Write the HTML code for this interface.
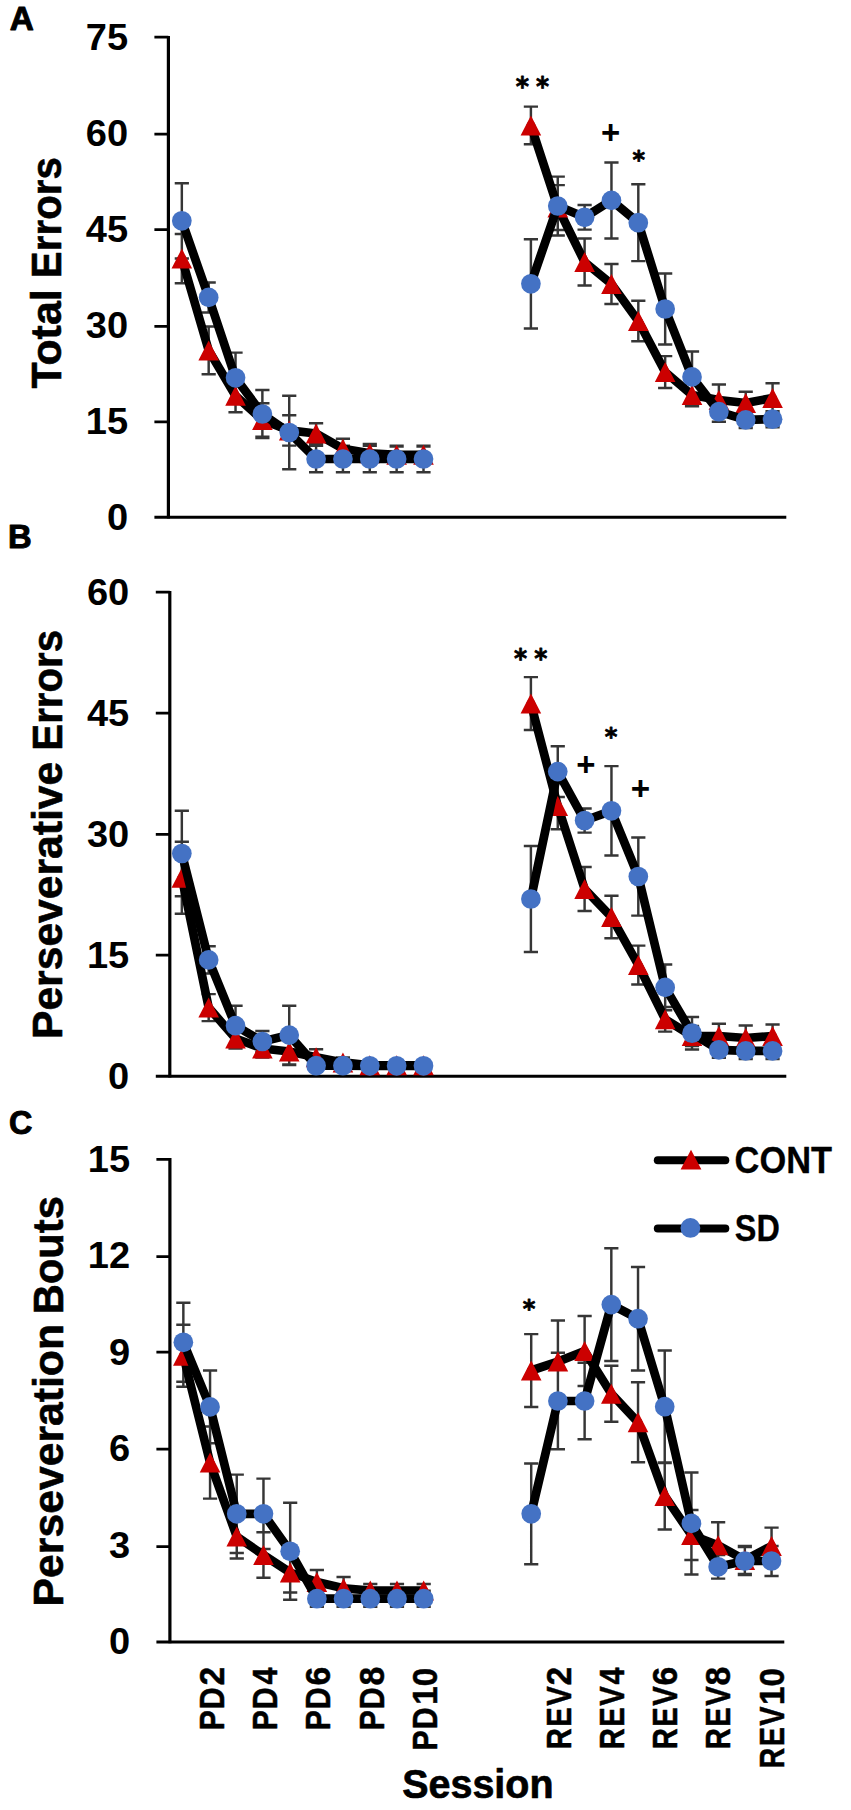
<!DOCTYPE html>
<html lang="en"><head><meta charset="utf-8"><title>Figure</title>
<style>html,body{margin:0;padding:0;background:#fff}body{width:851px;height:1810px;overflow:hidden}svg{display:block}</style>
</head><body>
<svg width="851" height="1810" viewBox="0 0 851 1810" role="img" aria-label="Figure: Total Errors, Perseverative Errors and Perseveration Bouts by Session for CONT and SD groups">
<rect width="851" height="1810" fill="#fff"/>
<g stroke="#000" fill="none">
<path d="M168.4 35.9V518.6" stroke-width="3.2"/>
<path d="M154.4 517.3H786.3" stroke-width="3"/>
<path d="M154.4 37.2H168.4M154.4 134.1H168.4M154.4 229.6H168.4M154.4 326.3H168.4M154.4 421.8H168.4" stroke-width="2.7"/>
</g>
<path d="M181.83 234V283.2M174.73 234h14.2M174.73 283.2h14.2M208.68 326.5V374.3M201.58 326.5h14.2M201.58 374.3h14.2M235.53 379.4V412.2M228.43 379.4h14.2M228.43 412.2h14.2M262.38 403.3V436.7M255.28 403.3h14.2M255.28 436.7h14.2M289.23 415.2V445.6M282.13 415.2h14.2M282.13 445.6h14.2M316.09 423.2V443.8M308.99 423.2h14.2M308.99 443.8h14.2M342.94 438.8V458.8M335.84 438.8h14.2M335.84 458.8h14.2M369.79 443.9V462.7M362.69 443.9h14.2M362.69 462.7h14.2M396.64 446.5V463.1M389.54 446.5h14.2M389.54 463.1h14.2M423.5 446.5V463.1M416.4 446.5h14.2M416.4 463.1h14.2M530.9 106.6V144.2M523.8 106.6h14.2M523.8 144.2h14.2M557.76 185.1V229.9M550.66 185.1h14.2M550.66 229.9h14.2M584.61 238.5V285.5M577.51 238.5h14.2M577.51 285.5h14.2M611.46 264V304M604.36 264h14.2M604.36 304h14.2M638.31 300.7V341.3M631.21 300.7h14.2M631.21 341.3h14.2M665.17 356.1V387.9M658.07 356.1h14.2M658.07 387.9h14.2M692.02 383.7V406.3M684.92 383.7h14.2M684.92 406.3h14.2M718.87 384.4V415.6M711.77 384.4h14.2M711.77 415.6h14.2M745.72 391.7V414.3M738.62 391.7h14.2M738.62 414.3h14.2M772.57 383.3V412.7M765.47 383.3h14.2M765.47 412.7h14.2M181.83 183.2V258.4M174.73 183.2h14.2M174.73 258.4h14.2M208.68 282.4V312.4M201.58 282.4h14.2M201.58 312.4h14.2M235.53 352.6V403M228.43 352.6h14.2M228.43 403h14.2M262.38 390V438M255.28 390h14.2M255.28 438h14.2M289.23 395.8V469.2M282.13 395.8h14.2M282.13 469.2h14.2M316.09 445.7V472.3M308.99 445.7h14.2M308.99 472.3h14.2M342.94 445.7V472.3M335.84 445.7h14.2M335.84 472.3h14.2M369.79 445.7V472.3M362.69 445.7h14.2M362.69 472.3h14.2M396.64 445.7V472.3M389.54 445.7h14.2M389.54 472.3h14.2M423.5 445.7V472.3M416.4 445.7h14.2M416.4 472.3h14.2M530.9 239.2V328.4M523.8 239.2h14.2M523.8 328.4h14.2M557.76 176.6V235.4M550.66 176.6h14.2M550.66 235.4h14.2M584.61 205V229.6M577.51 205h14.2M577.51 229.6h14.2M611.46 162.4V238.4M604.36 162.4h14.2M604.36 238.4h14.2M638.31 184.3V261.1M631.21 184.3h14.2M631.21 261.1h14.2M665.17 273.5V344.5M658.07 273.5h14.2M658.07 344.5h14.2M692.02 351.5V402.3M684.92 351.5h14.2M684.92 402.3h14.2M718.87 401.7V421.7M711.77 401.7h14.2M711.77 421.7h14.2M745.72 411.9V427.9M738.62 411.9h14.2M738.62 427.9h14.2M772.57 411.2V427.2M765.47 411.2h14.2M765.47 427.2h14.2" stroke="#363636" stroke-width="2.45" fill="none"/>
<polyline points="181.83,258.6 208.68,350.4 235.53,395.8 262.38,420 289.23,430.4 316.09,433.5 342.94,448.8 369.79,453.3 396.64,454.8 423.5,454.8" fill="none" stroke="#000" stroke-width="8.7" stroke-linejoin="round" stroke-linecap="round"/>
<polyline points="530.9,125.4 557.76,207.5 584.61,262 611.46,284 638.31,321 665.17,372 692.02,395 718.87,400 745.72,403 772.57,398" fill="none" stroke="#000" stroke-width="8.7" stroke-linejoin="round" stroke-linecap="round"/>
<path d="M181.83 248.6l10.3 20h-20.6zM208.68 340.4l10.3 20h-20.6zM235.53 385.8l10.3 20h-20.6zM262.38 410l10.3 20h-20.6zM289.23 420.4l10.3 20h-20.6zM316.09 423.5l10.3 20h-20.6zM342.94 438.8l10.3 20h-20.6zM369.79 443.3l10.3 20h-20.6zM396.64 444.8l10.3 20h-20.6zM423.5 444.8l10.3 20h-20.6zM530.9 115.4l10.3 20h-20.6zM557.76 197.5l10.3 20h-20.6zM584.61 252l10.3 20h-20.6zM611.46 274l10.3 20h-20.6zM638.31 311l10.3 20h-20.6zM665.17 362l10.3 20h-20.6zM692.02 385l10.3 20h-20.6zM718.87 390l10.3 20h-20.6zM745.72 393l10.3 20h-20.6zM772.57 388l10.3 20h-20.6z" fill="#cc0000"/>
<polyline points="181.83,220.8 208.68,297.4 235.53,377.8 262.38,414 289.23,432.5 316.09,459 342.94,459 369.79,459 396.64,459 423.5,459" fill="none" stroke="#000" stroke-width="8.7" stroke-linejoin="round" stroke-linecap="round"/>
<polyline points="530.9,283.8 557.76,206 584.61,217.3 611.46,200.4 638.31,222.7 665.17,309 692.02,376.9 718.87,411.7 745.72,419.9 772.57,419.2" fill="none" stroke="#000" stroke-width="8.7" stroke-linejoin="round" stroke-linecap="round"/>
<circle cx="181.83" cy="220.8" r="9.85" fill="#4472c4"/>
<circle cx="208.68" cy="297.4" r="9.85" fill="#4472c4"/>
<circle cx="235.53" cy="377.8" r="9.85" fill="#4472c4"/>
<circle cx="262.38" cy="414" r="9.85" fill="#4472c4"/>
<circle cx="289.23" cy="432.5" r="9.85" fill="#4472c4"/>
<circle cx="316.09" cy="459" r="9.85" fill="#4472c4"/>
<circle cx="342.94" cy="459" r="9.85" fill="#4472c4"/>
<circle cx="369.79" cy="459" r="9.85" fill="#4472c4"/>
<circle cx="396.64" cy="459" r="9.85" fill="#4472c4"/>
<circle cx="423.5" cy="459" r="9.85" fill="#4472c4"/>
<circle cx="530.9" cy="283.8" r="9.85" fill="#4472c4"/>
<circle cx="557.76" cy="206" r="9.85" fill="#4472c4"/>
<circle cx="584.61" cy="217.3" r="9.85" fill="#4472c4"/>
<circle cx="611.46" cy="200.4" r="9.85" fill="#4472c4"/>
<circle cx="638.31" cy="222.7" r="9.85" fill="#4472c4"/>
<circle cx="665.17" cy="309" r="9.85" fill="#4472c4"/>
<circle cx="692.02" cy="376.9" r="9.85" fill="#4472c4"/>
<circle cx="718.87" cy="411.7" r="9.85" fill="#4472c4"/>
<circle cx="745.72" cy="419.9" r="9.85" fill="#4472c4"/>
<circle cx="772.57" cy="419.2" r="9.85" fill="#4472c4"/>
<g stroke="#000" fill="none">
<path d="M169.8 590.9V1077.5" stroke-width="3.2"/>
<path d="M155.8 1076.2H786.3" stroke-width="3"/>
<path d="M155.8 592.2H169.8M155.8 713.2H169.8M155.8 834.3H169.8M155.8 955.2H169.8" stroke-width="2.7"/>
</g>
<path d="M181.83 841.7V913.7M174.73 841.7h14.2M174.73 913.7h14.2M208.68 994.1V1021.1M201.58 994.1h14.2M201.58 1021.1h14.2M235.53 1028.5V1048.5M228.43 1028.5h14.2M228.43 1048.5h14.2M262.38 1039.5V1057.5M255.28 1039.5h14.2M255.28 1057.5h14.2M289.23 1038V1065M282.13 1038h14.2M282.13 1065h14.2M316.09 1049.3V1065.3M308.99 1049.3h14.2M308.99 1065.3h14.2M342.94 1057.4V1067.4M335.84 1057.4h14.2M335.84 1067.4h14.2M369.79 1062.3V1068.3M362.69 1062.3h14.2M362.69 1068.3h14.2M396.64 1062.3V1068.3M389.54 1062.3h14.2M389.54 1068.3h14.2M423.5 1062.3V1068.3M416.4 1062.3h14.2M416.4 1068.3h14.2M530.9 677.1V729.9M523.8 677.1h14.2M523.8 729.9h14.2M557.76 782.8V829.2M550.66 782.8h14.2M550.66 829.2h14.2M584.61 867V911M577.51 867h14.2M577.51 911h14.2M611.46 895.8V938.2M604.36 895.8h14.2M604.36 938.2h14.2M638.31 945.6V984.4M631.21 945.6h14.2M631.21 984.4h14.2M665.17 1007V1031.6M658.07 1007h14.2M658.07 1031.6h14.2M692.02 1026V1046M684.92 1026h14.2M684.92 1046h14.2M718.87 1023.7V1048.3M711.77 1023.7h14.2M711.77 1048.3h14.2M745.72 1025.5V1050.5M738.62 1025.5h14.2M738.62 1050.5h14.2M772.57 1024.4V1047.6M765.47 1024.4h14.2M765.47 1047.6h14.2M181.83 810.7V896.3M174.73 810.7h14.2M174.73 896.3h14.2M208.68 946.3V973.5M201.58 946.3h14.2M201.58 973.5h14.2M235.53 1005.7V1045.7M228.43 1005.7h14.2M228.43 1045.7h14.2M262.38 1030.9V1052.1M255.28 1030.9h14.2M255.28 1052.1h14.2M289.23 1005.7V1064.5M282.13 1005.7h14.2M282.13 1064.5h14.2M316.09 1062.7V1068.7M308.99 1062.7h14.2M308.99 1068.7h14.2M342.94 1062.7V1068.7M335.84 1062.7h14.2M335.84 1068.7h14.2M369.79 1062.8V1068.8M362.69 1062.8h14.2M362.69 1068.8h14.2M396.64 1062.8V1068.8M389.54 1062.8h14.2M389.54 1068.8h14.2M423.5 1062.8V1068.8M416.4 1062.8h14.2M416.4 1068.8h14.2M530.9 846V952M523.8 846h14.2M523.8 952h14.2M557.76 746.2V797M550.66 746.2h14.2M550.66 797h14.2M584.61 808.4V832.6M577.51 808.4h14.2M577.51 832.6h14.2M611.46 766.1V855.5M604.36 766.1h14.2M604.36 855.5h14.2M638.31 837.4V915.6M631.21 837.4h14.2M631.21 915.6h14.2M665.17 964.5V1010.3M658.07 964.5h14.2M658.07 1010.3h14.2M692.02 1017V1049.4M684.92 1017h14.2M684.92 1049.4h14.2M718.87 1041.8V1057.8M711.77 1041.8h14.2M711.77 1057.8h14.2M745.72 1042.9V1058.9M738.62 1042.9h14.2M738.62 1058.9h14.2M772.57 1042.9V1058.9M765.47 1042.9h14.2M765.47 1058.9h14.2" stroke="#363636" stroke-width="2.45" fill="none"/>
<polyline points="181.83,877.7 208.68,1007.6 235.53,1038.5 262.38,1048.5 289.23,1051.5 316.09,1057.3 342.94,1062.4 369.79,1065.3 396.64,1065.3 423.5,1065.3" fill="none" stroke="#000" stroke-width="8.7" stroke-linejoin="round" stroke-linecap="round"/>
<polyline points="530.9,703.5 557.76,806 584.61,889 611.46,917 638.31,965 665.17,1019.3 692.02,1036 718.87,1036 745.72,1038 772.57,1036" fill="none" stroke="#000" stroke-width="8.7" stroke-linejoin="round" stroke-linecap="round"/>
<path d="M181.83 867.7l10.3 20h-20.6zM208.68 997.6l10.3 20h-20.6zM235.53 1028.5l10.3 20h-20.6zM262.38 1038.5l10.3 20h-20.6zM289.23 1041.5l10.3 20h-20.6zM316.09 1047.3l10.3 20h-20.6zM342.94 1052.4l10.3 20h-20.6zM369.79 1055.3l10.3 20h-20.6zM396.64 1055.3l10.3 20h-20.6zM423.5 1055.3l10.3 20h-20.6zM530.9 693.5l10.3 20h-20.6zM557.76 796l10.3 20h-20.6zM584.61 879l10.3 20h-20.6zM611.46 907l10.3 20h-20.6zM638.31 955l10.3 20h-20.6zM665.17 1009.3l10.3 20h-20.6zM692.02 1026l10.3 20h-20.6zM718.87 1026l10.3 20h-20.6zM745.72 1028l10.3 20h-20.6zM772.57 1026l10.3 20h-20.6z" fill="#cc0000"/>
<polyline points="181.83,853.5 208.68,959.9 235.53,1025.7 262.38,1041.5 289.23,1035.1 316.09,1065.7 342.94,1065.7 369.79,1065.8 396.64,1065.8 423.5,1065.8" fill="none" stroke="#000" stroke-width="8.7" stroke-linejoin="round" stroke-linecap="round"/>
<polyline points="530.9,899 557.76,771.6 584.61,820.5 611.46,810.8 638.31,876.5 665.17,987.4 692.02,1033.2 718.87,1049.8 745.72,1050.9 772.57,1050.9" fill="none" stroke="#000" stroke-width="8.7" stroke-linejoin="round" stroke-linecap="round"/>
<circle cx="181.83" cy="853.5" r="9.85" fill="#4472c4"/>
<circle cx="208.68" cy="959.9" r="9.85" fill="#4472c4"/>
<circle cx="235.53" cy="1025.7" r="9.85" fill="#4472c4"/>
<circle cx="262.38" cy="1041.5" r="9.85" fill="#4472c4"/>
<circle cx="289.23" cy="1035.1" r="9.85" fill="#4472c4"/>
<circle cx="316.09" cy="1065.7" r="9.85" fill="#4472c4"/>
<circle cx="342.94" cy="1065.7" r="9.85" fill="#4472c4"/>
<circle cx="369.79" cy="1065.8" r="9.85" fill="#4472c4"/>
<circle cx="396.64" cy="1065.8" r="9.85" fill="#4472c4"/>
<circle cx="423.5" cy="1065.8" r="9.85" fill="#4472c4"/>
<circle cx="530.9" cy="899" r="9.85" fill="#4472c4"/>
<circle cx="557.76" cy="771.6" r="9.85" fill="#4472c4"/>
<circle cx="584.61" cy="820.5" r="9.85" fill="#4472c4"/>
<circle cx="611.46" cy="810.8" r="9.85" fill="#4472c4"/>
<circle cx="638.31" cy="876.5" r="9.85" fill="#4472c4"/>
<circle cx="665.17" cy="987.4" r="9.85" fill="#4472c4"/>
<circle cx="692.02" cy="1033.2" r="9.85" fill="#4472c4"/>
<circle cx="718.87" cy="1049.8" r="9.85" fill="#4472c4"/>
<circle cx="745.72" cy="1050.9" r="9.85" fill="#4472c4"/>
<circle cx="772.57" cy="1050.9" r="9.85" fill="#4472c4"/>
<g stroke="#000" fill="none">
<path d="M169.9 1158.1V1643.2" stroke-width="3.2"/>
<path d="M156.4 1641.9H784.3" stroke-width="3"/>
<path d="M156.4 1159.4H169.9M156.4 1256.7H169.9M156.4 1352.1H169.9M156.4 1449.2H169.9M156.4 1546.7H169.9" stroke-width="2.7"/>
</g>
<path d="M183.35 1324.8V1386.8M176.25 1324.8h14.2M176.25 1386.8h14.2M210.06 1426.4V1498.6M202.96 1426.4h14.2M202.96 1498.6h14.2M236.76 1514.5V1558.5M229.66 1514.5h14.2M229.66 1558.5h14.2M263.47 1532.3V1577.7M256.37 1532.3h14.2M256.37 1577.7h14.2M290.17 1552.5V1592.5M283.07 1552.5h14.2M283.07 1592.5h14.2M316.87 1570V1594M309.77 1570h14.2M309.77 1594h14.2M343.58 1577V1599.6M336.48 1577h14.2M336.48 1599.6h14.2M370.28 1583.9V1597.1M363.18 1583.9h14.2M363.18 1597.1h14.2M396.99 1583.9V1597.1M389.89 1583.9h14.2M389.89 1597.1h14.2M423.69 1583.9V1597.1M416.59 1583.9h14.2M416.59 1597.1h14.2M531.21 1334.1V1406.9M524.11 1334.1h14.2M524.11 1406.9h14.2M557.91 1320.4V1402.8M550.81 1320.4h14.2M550.81 1402.8h14.2M584.62 1316V1386M577.52 1316h14.2M577.52 1386h14.2M611.32 1365.8V1421.8M604.22 1365.8h14.2M604.22 1421.8h14.2M638.03 1382.3V1462.3M630.93 1382.3h14.2M630.93 1462.3h14.2M664.73 1462.5V1529.5M657.63 1462.5h14.2M657.63 1529.5h14.2M691.43 1510V1560M684.33 1510h14.2M684.33 1560h14.2M718.14 1522.2V1568.4M711.04 1522.2h14.2M711.04 1568.4h14.2M744.84 1546V1574M737.74 1546h14.2M737.74 1574h14.2M771.55 1527.6V1564.4M764.45 1527.6h14.2M764.45 1564.4h14.2M183.35 1302.8V1381.8M176.25 1302.8h14.2M176.25 1381.8h14.2M210.06 1370.5V1443.3M202.96 1370.5h14.2M202.96 1443.3h14.2M236.76 1474.6V1553M229.66 1474.6h14.2M229.66 1553h14.2M263.47 1478.6V1549M256.37 1478.6h14.2M256.37 1549h14.2M290.17 1502.8V1599.8M283.07 1502.8h14.2M283.07 1599.8h14.2M316.87 1590.7V1606.7M309.77 1590.7h14.2M309.77 1606.7h14.2M343.58 1590.7V1606.7M336.48 1590.7h14.2M336.48 1606.7h14.2M370.28 1590.7V1606.7M363.18 1590.7h14.2M363.18 1606.7h14.2M396.99 1590.7V1606.7M389.89 1590.7h14.2M389.89 1606.7h14.2M423.69 1590.7V1606.7M416.59 1590.7h14.2M416.59 1606.7h14.2M531.21 1463.4V1564.2M524.11 1463.4h14.2M524.11 1564.2h14.2M557.91 1352.8V1449.2M550.81 1352.8h14.2M550.81 1449.2h14.2M584.62 1362.7V1439.3M577.52 1362.7h14.2M577.52 1439.3h14.2M611.32 1248.2V1361M604.22 1248.2h14.2M604.22 1361h14.2M638.03 1267V1370.4M630.93 1267h14.2M630.93 1370.4h14.2M664.73 1350.4V1463M657.63 1350.4h14.2M657.63 1463h14.2M691.43 1472.4V1574.4M684.33 1472.4h14.2M684.33 1574.4h14.2M718.14 1555V1578.6M711.04 1555h14.2M711.04 1578.6h14.2M744.84 1546.9V1575.1M737.74 1546.9h14.2M737.74 1575.1h14.2M771.55 1546V1576M764.45 1546h14.2M764.45 1576h14.2" stroke="#363636" stroke-width="2.45" fill="none"/>
<polyline points="183.35,1355.8 210.06,1462.5 236.76,1536.5 263.47,1555 290.17,1572.5 316.87,1582 343.58,1588.3 370.28,1590.5 396.99,1590.5 423.69,1590.5" fill="none" stroke="#000" stroke-width="8.7" stroke-linejoin="round" stroke-linecap="round"/>
<polyline points="531.21,1370.5 557.91,1361.6 584.62,1351 611.32,1393.8 638.03,1422.3 664.73,1496 691.43,1535 718.14,1545.3 744.84,1560 771.55,1546" fill="none" stroke="#000" stroke-width="8.7" stroke-linejoin="round" stroke-linecap="round"/>
<path d="M183.35 1345.8l10.3 20h-20.6zM210.06 1452.5l10.3 20h-20.6zM236.76 1526.5l10.3 20h-20.6zM263.47 1545l10.3 20h-20.6zM290.17 1562.5l10.3 20h-20.6zM316.87 1572l10.3 20h-20.6zM343.58 1578.3l10.3 20h-20.6zM370.28 1580.5l10.3 20h-20.6zM396.99 1580.5l10.3 20h-20.6zM423.69 1580.5l10.3 20h-20.6zM531.21 1360.5l10.3 20h-20.6zM557.91 1351.6l10.3 20h-20.6zM584.62 1341l10.3 20h-20.6zM611.32 1383.8l10.3 20h-20.6zM638.03 1412.3l10.3 20h-20.6zM664.73 1486l10.3 20h-20.6zM691.43 1525l10.3 20h-20.6zM718.14 1535.3l10.3 20h-20.6zM744.84 1550l10.3 20h-20.6zM771.55 1536l10.3 20h-20.6z" fill="#cc0000"/>
<polyline points="183.35,1342.3 210.06,1406.9 236.76,1513.8 263.47,1513.8 290.17,1551.3 316.87,1598.7 343.58,1598.7 370.28,1598.7 396.99,1598.7 423.69,1598.7" fill="none" stroke="#000" stroke-width="8.7" stroke-linejoin="round" stroke-linecap="round"/>
<polyline points="531.21,1513.8 557.91,1401 584.62,1401 611.32,1304.6 638.03,1318.7 664.73,1406.7 691.43,1523.4 718.14,1566.8 744.84,1561 771.55,1561" fill="none" stroke="#000" stroke-width="8.7" stroke-linejoin="round" stroke-linecap="round"/>
<circle cx="183.35" cy="1342.3" r="9.85" fill="#4472c4"/>
<circle cx="210.06" cy="1406.9" r="9.85" fill="#4472c4"/>
<circle cx="236.76" cy="1513.8" r="9.85" fill="#4472c4"/>
<circle cx="263.47" cy="1513.8" r="9.85" fill="#4472c4"/>
<circle cx="290.17" cy="1551.3" r="9.85" fill="#4472c4"/>
<circle cx="316.87" cy="1598.7" r="9.85" fill="#4472c4"/>
<circle cx="343.58" cy="1598.7" r="9.85" fill="#4472c4"/>
<circle cx="370.28" cy="1598.7" r="9.85" fill="#4472c4"/>
<circle cx="396.99" cy="1598.7" r="9.85" fill="#4472c4"/>
<circle cx="423.69" cy="1598.7" r="9.85" fill="#4472c4"/>
<circle cx="531.21" cy="1513.8" r="9.85" fill="#4472c4"/>
<circle cx="557.91" cy="1401" r="9.85" fill="#4472c4"/>
<circle cx="584.62" cy="1401" r="9.85" fill="#4472c4"/>
<circle cx="611.32" cy="1304.6" r="9.85" fill="#4472c4"/>
<circle cx="638.03" cy="1318.7" r="9.85" fill="#4472c4"/>
<circle cx="664.73" cy="1406.7" r="9.85" fill="#4472c4"/>
<circle cx="691.43" cy="1523.4" r="9.85" fill="#4472c4"/>
<circle cx="718.14" cy="1566.8" r="9.85" fill="#4472c4"/>
<circle cx="744.84" cy="1561" r="9.85" fill="#4472c4"/>
<circle cx="771.55" cy="1561" r="9.85" fill="#4472c4"/>
<g stroke="#000" stroke-width="8" stroke-linecap="round"><path d="M657.8 1160.2H725.3"/><path d="M657.8 1228.4H725.3"/></g>
<path d="M691 1149.8l10.4 19.6h-20.8z" fill="#cc0000"/>
<circle cx="690.4" cy="1227.9" r="9.9" fill="#4472c4"/>
<g font-family='"Liberation Sans", sans-serif' fill="#000">
<text transform="translate(9.2 30.4) translate(0.5 0) scale(0.9920 1.0000)" font-size="33.6" font-weight="bold" stroke="#000" stroke-width="1.0" stroke-linejoin="round">A</text>
<text transform="translate(9.5 547.6) translate(-1.47 0) scale(0.9773 1.0000)" font-size="33.6" font-weight="bold" stroke="#000" stroke-width="1.0" stroke-linejoin="round">B</text>
<text transform="translate(9.6 1133.6) translate(-0.48 0) scale(0.9625 1.0000)" font-size="33.6" font-weight="bold" stroke="#000" stroke-width="1.0" stroke-linejoin="round">C</text>
<text transform="translate(127.4 49.7) translate(-41.56 0) scale(1.0200 1.0000)" font-size="37.3" font-weight="bold">75</text>
<text transform="translate(127.4 145.72) translate(-41.56 0) scale(1.0200 1.0000)" font-size="37.3" font-weight="bold">60</text>
<text transform="translate(127.4 241.74) translate(-41.56 0) scale(1.0200 1.0000)" font-size="37.3" font-weight="bold">45</text>
<text transform="translate(127.4 337.76) translate(-41.56 0) scale(1.0200 1.0000)" font-size="37.3" font-weight="bold">30</text>
<text transform="translate(127.4 433.78) translate(-41.56 0) scale(1.0200 1.0000)" font-size="37.3" font-weight="bold">15</text>
<text transform="translate(127.4 529.8) translate(-20.4 0) scale(1.0200 1.0000)" font-size="37.3" font-weight="bold">0</text>
<text transform="translate(128.5 604.7) translate(-41.56 0) scale(1.0200 1.0000)" font-size="37.3" font-weight="bold">60</text>
<text transform="translate(128.5 725.7) translate(-41.56 0) scale(1.0200 1.0000)" font-size="37.3" font-weight="bold">45</text>
<text transform="translate(128.5 846.7) translate(-41.56 0) scale(1.0200 1.0000)" font-size="37.3" font-weight="bold">30</text>
<text transform="translate(128.5 967.7) translate(-41.56 0) scale(1.0200 1.0000)" font-size="37.3" font-weight="bold">15</text>
<text transform="translate(128.5 1088.7) translate(-20.4 0) scale(1.0200 1.0000)" font-size="37.3" font-weight="bold">0</text>
<text transform="translate(129.3 1171.9) translate(-41.56 0) scale(1.0200 1.0000)" font-size="37.3" font-weight="bold">15</text>
<text transform="translate(129.3 1268.4) translate(-41.56 0) scale(1.0200 1.0000)" font-size="37.3" font-weight="bold">12</text>
<text transform="translate(129.3 1364.9) translate(-20.4 0) scale(1.0200 1.0000)" font-size="37.3" font-weight="bold">9</text>
<text transform="translate(129.3 1461.4) translate(-20.4 0) scale(1.0200 1.0000)" font-size="37.3" font-weight="bold">6</text>
<text transform="translate(129.3 1557.9) translate(-20.4 0) scale(1.0200 1.0000)" font-size="37.3" font-weight="bold">3</text>
<text transform="translate(129.3 1654.4) translate(-20.4 0) scale(1.0200 1.0000)" font-size="37.3" font-weight="bold">0</text>
<text transform="translate(61.2 388.9) rotate(-90) translate(0.31 0) scale(1.0261 1.0000)" font-size="41.8" font-weight="bold" stroke="#000" stroke-width="0.6" stroke-linejoin="round">Total </text><text transform="translate(61.2 276.5) rotate(-90) translate(-1.64 0) scale(0.9649 1.0000)" font-size="41.8" font-weight="bold" stroke="#000" stroke-width="0.6" stroke-linejoin="round">Errors</text>
<text transform="translate(62.4 1037.3) rotate(-90) translate(-1.73 0) scale(1.0198 1.0000)" font-size="41.8" font-weight="bold" stroke="#000" stroke-width="0.6" stroke-linejoin="round">Perseverative </text><text transform="translate(62.4 749.1) rotate(-90) translate(-1.64 0) scale(0.9641 1.0000)" font-size="41.8" font-weight="bold" stroke="#000" stroke-width="0.6" stroke-linejoin="round">Errors</text>
<text transform="translate(62.8 1604.7) rotate(-90) translate(-1.74 0) scale(1.0215 1.0000)" font-size="41.8" font-weight="bold" stroke="#000" stroke-width="0.6" stroke-linejoin="round">Perseveration </text><text transform="translate(62.8 1312.5) rotate(-90) translate(-1.69 0) scale(0.9968 1.0000)" font-size="41.8" font-weight="bold" stroke="#000" stroke-width="0.6" stroke-linejoin="round">Bouts</text>
<text transform="translate(402.8 1797.7) translate(-0.63 0) scale(0.9626 1.0000)" font-size="41" font-weight="bold" stroke="#000" stroke-width="0.7" stroke-linejoin="round">Session</text>
<text letter-spacing="1.2" transform="translate(223.8 1728.8) rotate(-90) translate(-1.47 0) scale(0.8420 1.0000)" font-size="35.8" font-weight="bold" stroke="#000" stroke-width="0.5" stroke-linejoin="round">PD</text><text transform="translate(223.8 1684.8) rotate(-90) translate(-0.71 0) scale(0.9405 1.0000)" font-size="35.8" font-weight="bold" stroke="#000" stroke-width="0.5" stroke-linejoin="round">2</text>
<text letter-spacing="1.2" transform="translate(276.8 1728.8) rotate(-90) translate(-1.47 0) scale(0.8420 1.0000)" font-size="35.8" font-weight="bold" stroke="#000" stroke-width="0.5" stroke-linejoin="round">PD</text><text transform="translate(276.8 1684.8) rotate(-90) translate(0.21 0) scale(0.8488 1.0000)" font-size="35.8" font-weight="bold" stroke="#000" stroke-width="0.5" stroke-linejoin="round">4</text>
<text letter-spacing="1.2" transform="translate(330.1 1728.8) rotate(-90) translate(-1.47 0) scale(0.8420 1.0000)" font-size="35.8" font-weight="bold" stroke="#000" stroke-width="0.5" stroke-linejoin="round">PD</text><text transform="translate(330.1 1684.8) rotate(-90) translate(-0.71 0) scale(0.9405 1.0000)" font-size="35.8" font-weight="bold" stroke="#000" stroke-width="0.5" stroke-linejoin="round">6</text>
<text letter-spacing="1.2" transform="translate(384.2 1728.8) rotate(-90) translate(-1.47 0) scale(0.8420 1.0000)" font-size="35.8" font-weight="bold" stroke="#000" stroke-width="0.5" stroke-linejoin="round">PD</text><text transform="translate(384.2 1684.8) rotate(-90) translate(-0.71 0) scale(0.9405 1.0000)" font-size="35.8" font-weight="bold" stroke="#000" stroke-width="0.5" stroke-linejoin="round">8</text>
<text letter-spacing="1.2" transform="translate(437.3 1749) rotate(-90) translate(-1.48 0) scale(0.8461 1.0000)" font-size="35.8" font-weight="bold" stroke="#000" stroke-width="0.5" stroke-linejoin="round">PD</text><text transform="translate(437.3 1703.2) rotate(-90) translate(-1.62 0) scale(0.9276 1.0000)" font-size="35.8" font-weight="bold" stroke="#000" stroke-width="0.5" stroke-linejoin="round">10</text>
<text letter-spacing="1.8" transform="translate(571.2 1747.8) rotate(-90) translate(-1.42 0) scale(0.8137 1.0000)" font-size="35.8" font-weight="bold" stroke="#000" stroke-width="0.5" stroke-linejoin="round">REV</text><text transform="translate(571.2 1684.8) rotate(-90) translate(-0.71 0) scale(0.9405 1.0000)" font-size="35.8" font-weight="bold" stroke="#000" stroke-width="0.5" stroke-linejoin="round">2</text>
<text letter-spacing="1.8" transform="translate(624.2 1747.8) rotate(-90) translate(-1.42 0) scale(0.8137 1.0000)" font-size="35.8" font-weight="bold" stroke="#000" stroke-width="0.5" stroke-linejoin="round">REV</text><text transform="translate(624.2 1684.8) rotate(-90) translate(0.21 0) scale(0.8488 1.0000)" font-size="35.8" font-weight="bold" stroke="#000" stroke-width="0.5" stroke-linejoin="round">4</text>
<text letter-spacing="1.8" transform="translate(677.2 1747.8) rotate(-90) translate(-1.42 0) scale(0.8137 1.0000)" font-size="35.8" font-weight="bold" stroke="#000" stroke-width="0.5" stroke-linejoin="round">REV</text><text transform="translate(677.2 1684.8) rotate(-90) translate(-0.71 0) scale(0.9405 1.0000)" font-size="35.8" font-weight="bold" stroke="#000" stroke-width="0.5" stroke-linejoin="round">6</text>
<text letter-spacing="1.8" transform="translate(730.3 1747.8) rotate(-90) translate(-1.42 0) scale(0.8137 1.0000)" font-size="35.8" font-weight="bold" stroke="#000" stroke-width="0.5" stroke-linejoin="round">REV</text><text transform="translate(730.3 1684.8) rotate(-90) translate(-0.71 0) scale(0.9405 1.0000)" font-size="35.8" font-weight="bold" stroke="#000" stroke-width="0.5" stroke-linejoin="round">8</text>
<text letter-spacing="1.8" transform="translate(783.6 1767) rotate(-90) translate(-1.4 0) scale(0.8018 1.0000)" font-size="35.8" font-weight="bold" stroke="#000" stroke-width="0.5" stroke-linejoin="round">REV</text><text transform="translate(783.6 1703.3) rotate(-90) translate(-1.62 0) scale(0.9276 1.0000)" font-size="35.8" font-weight="bold" stroke="#000" stroke-width="0.5" stroke-linejoin="round">10</text>
<text transform="translate(735.4 1172.9) translate(-0.79 0) scale(0.9244 1.0000)" font-size="37.2" font-weight="bold" stroke="#000" stroke-width="0.3" stroke-linejoin="round">CONT</text>
<text transform="translate(735.6 1241.2) translate(-0.74 0) scale(0.8702 1.0000)" font-size="37.2" font-weight="bold" stroke="#000" stroke-width="0.3" stroke-linejoin="round">SD</text>
<text transform="translate(515.4 95.81) translate(0.38 0) scale(0.8462 0.8800)" font-size="30" font-weight="bold" font-family='"DejaVu Sans", "Liberation Sans", sans-serif' stroke="#000" stroke-width="0.9" stroke-linejoin="round">*</text><text transform="translate(535.7 95.81) translate(0.38 0) scale(0.8343 0.8800)" font-size="30" font-weight="bold" font-family='"DejaVu Sans", "Liberation Sans", sans-serif' stroke="#000" stroke-width="0.9" stroke-linejoin="round">*</text>
<text transform="translate(602 144.3) translate(-0.97 0) scale(0.9667 1.0000)" font-size="34" font-weight="bold">+</text>
<text transform="translate(632.2 168.48) translate(0.36 0) scale(0.7988 0.8467)" font-size="30" font-weight="bold" font-family='"DejaVu Sans", "Liberation Sans", sans-serif' stroke="#000" stroke-width="0.9" stroke-linejoin="round">*</text>
<text transform="translate(513.5 668.01) translate(0.38 0) scale(0.8343 0.8800)" font-size="30" font-weight="bold" font-family='"DejaVu Sans", "Liberation Sans", sans-serif' stroke="#000" stroke-width="0.9" stroke-linejoin="round">*</text><text transform="translate(533.9 668.01) translate(0.38 0) scale(0.8343 0.8800)" font-size="30" font-weight="bold" font-family='"DejaVu Sans", "Liberation Sans", sans-serif' stroke="#000" stroke-width="0.9" stroke-linejoin="round">*</text>
<text transform="translate(604.5 745.48) translate(0.36 0) scale(0.8047 0.8467)" font-size="30" font-weight="bold" font-family='"DejaVu Sans", "Liberation Sans", sans-serif' stroke="#000" stroke-width="0.9" stroke-linejoin="round">*</text>
<text transform="translate(577.2 776.4) translate(-0.97 0) scale(0.9667 1.0000)" font-size="34" font-weight="bold">+</text>
<text transform="translate(631.8 799.9) translate(-0.98 0) scale(0.9778 1.0000)" font-size="34" font-weight="bold">+</text>
<text transform="translate(522.3 1317.18) translate(0.36 0) scale(0.8047 0.8467)" font-size="30" font-weight="bold" font-family='"DejaVu Sans", "Liberation Sans", sans-serif' stroke="#000" stroke-width="0.9" stroke-linejoin="round">*</text>
</g>
</svg>
</body></html>
